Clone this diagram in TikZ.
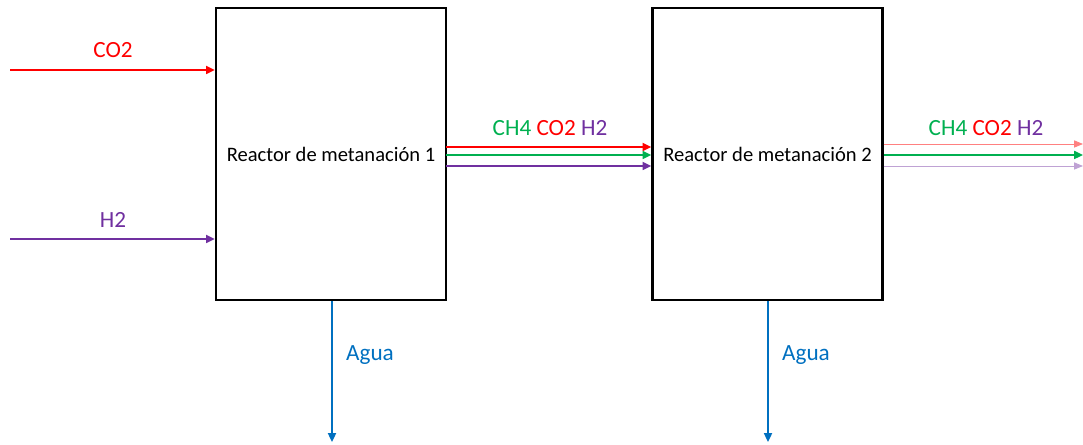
\documentclass[tikz,border=0pt]{standalone}
\usepackage{fontspec}
\setmainfont{Carlito}
\usepackage{xcolor}
\usetikzlibrary{arrows.meta, positioning}

\definecolor{cored}{RGB}{255,0,0}
\definecolor{chgreen}{RGB}{0,176,80}
\definecolor{hpurple}{RGB}{112,48,160}
\definecolor{aguablue}{RGB}{0,112,192}

\begin{document}
\begin{tikzpicture}[x=0.02cm, y=-0.02cm,
    reactor/.style={draw, line width=1.4pt, minimum width=4.6cm, minimum height=5.84cm,
      inner sep=0pt, font=\fontsize{11.7}{13}\selectfont},
    flow/.style={line width=1.1pt, -{Triangle[length=5pt,width=4.5pt]}},
    thinflow/.style={line width=0.5pt, -{Triangle[length=5pt,width=4pt]}},
    lbl/.style={font=\fontsize{13.2}{15}\selectfont, inner sep=0pt}]
  \useasboundingbox (0,0) rectangle (1083,445);
  % reactores
  \node[reactor] (r1) at (331,154) {Reactor de metanación 1};
  \node[reactor] (r2) at (767.5,154) {Reactor de metanación 2};
  % entradas
  \coordinate (co2in) at (10,70);
  \coordinate (h2in) at (10,239);
  \draw[flow, cored] (co2in) -- (co2in -| r1.west);
  \draw[flow, hpurple] (h2in) -- (h2in -| r1.west);
  \node[lbl, cored] (co2lbl) at (113,50) {CO2};
  \node[lbl, hpurple] (h2lbl) at (113,220) {H2};
  % entre reactores
  \coordinate (m1) at (446,147);
  \coordinate (m2) at (446,155);
  \coordinate (m3) at (446,166);
  \draw[flow, cored] (m1) -- (m1 -| r2.west);
  \draw[flow, chgreen] (m2) -- (m2 -| r2.west);
  \draw[flow, hpurple] (m3) -- (m3 -| r2.west);
  \node[lbl] (mix1) at (550,128) {\textcolor{chgreen}{CH4} \textcolor{cored}{CO2} \textcolor{hpurple}{H2}};
  % salida
  \coordinate (o1) at (1083,144);
  \coordinate (o2) at (1083,155);
  \coordinate (o3) at (1083,166);
  \draw[thinflow, cored!50] (o1 -| r2.east) -- (o1);
  \draw[flow, chgreen] (o2 -| r2.east) -- (o2);
  \draw[thinflow, hpurple!45] (o3 -| r2.east) -- (o3);
  \node[lbl] (mix2) at (986,128) {\textcolor{chgreen}{CH4} \textcolor{cored}{CO2} \textcolor{hpurple}{H2}};
  % agua
  \coordinate (w1) at (332,442);
  \coordinate (w2) at (768,442);
  \draw[flow, aguablue] (w1 |- r1.south) -- (w1);
  \draw[flow, aguablue] (w2 |- r2.south) -- (w2);
  \node[lbl, aguablue] (agua1) at (370,355) {Agua};
  \node[lbl, aguablue] (agua2) at (806,355) {Agua};
\end{tikzpicture}
\end{document}
